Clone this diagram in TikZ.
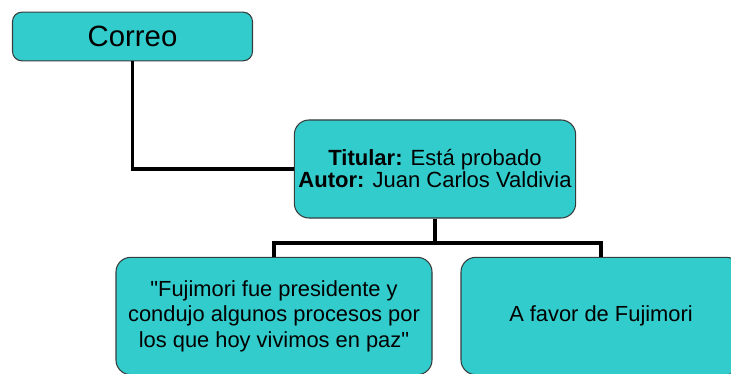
\documentclass[tikz,border=0pt]{standalone}
\usepackage{fontspec}
\setmainfont{Liberation Sans}[Ligatures=TeXOff]
\usepackage{tikz}
\usetikzlibrary{positioning}
\definecolor{myteal}{RGB}{51,204,204}
\definecolor{myedge}{RGB}{55,60,60}
\tikzset{
  box/.style={draw=myedge, line width=0.8pt, fill=myteal, rounded corners=11pt, align=center, inner sep=0pt},
  link/.style={draw=black, line width=2.3pt}
}

\begin{document}
\begin{tikzpicture}[x=0.75pt, y=-0.75pt]
    % frame
    \useasboundingbox (0,0) rectangle (731,374);
    \clip (0,0) rectangle (731,374);

    % boxes
    \node[box, rounded corners=7pt, minimum width=180pt, minimum height=36.5pt, font=\fontsize{22}{26}\selectfont] (correo) at (132.5,36.5) {Correo};
    \node[box, minimum width=211pt, minimum height=73.5pt, font=\fontsize{16.5}{16.5}\selectfont] (titular) at (435,169) {\textbf{Titular:} Está probado\\\textbf{Autor:} Juan Carlos Valdivia};
    \node[box, minimum width=237pt, minimum height=88pt, font=\fontsize{16.4}{19.2}\selectfont] (cita) at (274,316) {"Fujimori fue presidente y\\condujo algunos procesos por\\los que hoy vivimos en paz"};
    \node[box, minimum width=210pt, minimum height=88pt, font=\fontsize{16.4}{19.2}\selectfont] (postura) at (601,316) {A favor de Fujimori};

    % connectors
    \coordinate (split) at (435,243);
    \draw[link] (correo.south) |- (titular.west);
    \draw[link] (titular.south) -- (split);
    \draw[link] (cita.north) |- (split) -| (postura.north);
\end{tikzpicture}
\end{document}
